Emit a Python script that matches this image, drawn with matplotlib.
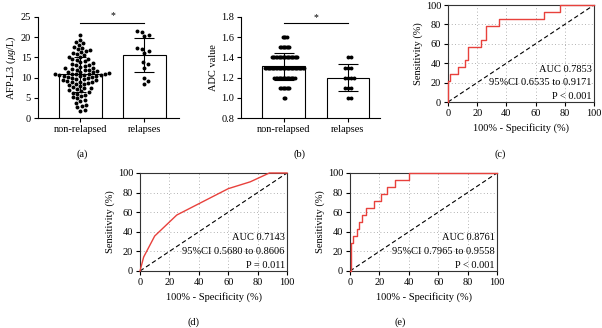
import numpy as np
import matplotlib
matplotlib.use("Agg")
import matplotlib.pyplot as plt

plt.rcParams["font.family"] = ["Liberation Serif", "DejaVu Serif"]
plt.rcParams["mathtext.fontset"] = "custom"
plt.rcParams["mathtext.it"] = "Liberation Serif:italic"
plt.rcParams["mathtext.rm"] = "Liberation Serif"
plt.rcParams["font.size"] = 7.5

# ── data ──────────────────────────────────────────────────────────────────── #
groups = ["non-relapsed", "relapses"]

afp_nonrel = [
    20.6, 19.4, 18.9, 18.5, 18.1, 17.6, 17.4, 17.0, 16.8, 16.6, 16.3, 16.1,
    15.8, 15.5, 15.2, 15.0, 14.7, 14.3, 14.1, 13.8, 13.5, 13.3, 13.1, 12.9,
    12.6, 12.4, 12.3, 12.0, 11.9, 11.7, 11.5, 11.3, 11.1, 11.0, 10.9, 10.9,
    10.8, 10.8, 10.7, 10.7, 10.6, 10.5, 10.4, 10.2, 10.1, 9.9, 9.8, 9.6,
    9.4, 9.3, 9.1, 8.9, 8.7, 8.5, 8.4, 8.1, 7.9, 7.7, 7.4, 7.2, 6.9, 6.7,
    6.5, 6.3, 6.0, 5.8, 5.5, 5.2, 4.9, 4.5, 4.1, 3.6, 3.3, 3.0, 2.6, 2.1, 1.8,
    12.2, 11.4, 10.3, 9.7, 8.8, 11.8, 13.0, 7.5, 14.5, 9.0,
]
afp_rel = [21.5, 21.2, 20.6, 20.2, 17.4, 17.0, 16.5, 16.0, 13.8, 13.4, 12.5, 10.0, 9.2, 8.3]
afp_mean = [10.8, 15.7]
afp_sd = [4.4, 4.2]

adc_levels = [1.0, 1.1, 1.2, 1.3, 1.4, 1.5, 1.6]
adc_nonrel_counts = [2, 8, 16, 30, 20, 8, 4]
adc_rel_counts = [2, 3, 4, 3, 2, 0, 0]
adc_mean = [1.31, 1.20]
adc_sd = [0.13, 0.13]

# ROC curves: 100% - specificity (x) and sensitivity (y), in %
roc_c_x = [0, 0, 1.1, 1.1, 6.6, 6.6, 11.4, 11.4, 14, 14, 22.7, 22.7, 26, 26, 35, 35, 65.7, 65.7, 77, 77, 100]
roc_c_y = [0, 21.4, 21.4, 28.6, 28.6, 35.7, 35.7, 42.9, 42.9, 57.1, 57.1, 64.3, 64.3, 78.6, 78.6, 85.7, 85.7, 92.9, 92.9, 100, 100]
roc_d_x = [0, 2.5, 10, 25, 60, 75, 88, 100]
roc_d_y = [0, 14.3, 35.7, 57.1, 84, 91, 100, 100]
roc_e_x = [0, 0.7, 0.7, 2, 2, 5, 5, 6, 6, 8.4, 8.4, 11, 11, 16.6, 16.6, 21, 21, 25.5, 25.5, 30.7, 30.7, 40, 40, 100]
roc_e_y = [0, 0, 28.6, 28.6, 35.7, 35.7, 42.9, 42.9, 50, 50, 57.1, 57.1, 64.3, 64.3, 71.4, 71.4, 78.6, 78.6, 85.7, 85.7, 92.9, 92.9, 100, 100]

roc_c_text = ["AUC 0.7853", "95%CI 0.6535 to 0.9171", "P < 0.001"]
roc_d_text = ["AUC 0.7143", "95%CI 0.5680 to 0.8606", "P = 0.011"]
roc_e_text = ["AUC 0.8761", "95%CI 0.7965 to 0.9558", "P < 0.001"]

W, H = 602, 328
fig = plt.figure(figsize=(W / 100, H / 100), dpi=100)


def add_ax(left, top, right, bottom):
    return fig.add_axes([left / W, 1 - bottom / H, (right - left) / W, (bottom - top) / H])


def swarm(vals, px_per_unit, diam):
    """Beeswarm offsets (pixels) for values drawn at px_per_unit vertical scale."""
    vals = np.asarray(vals, float)
    order = np.argsort(vals)
    placed = []
    offs = np.zeros(len(vals))
    for i in order:
        y = vals[i] * px_per_unit
        near = [(x, yy) for x, yy in placed if abs(yy - y) < diam]
        cands = [0.0]
        for x, yy in near:
            dx = np.sqrt(diam ** 2 - (yy - y) ** 2)
            cands += [x + dx, x - dx]
        cands.sort(key=abs)
        for c in cands:
            if all((c - x) ** 2 + (y - yy) ** 2 >= diam ** 2 - 1e-6 for x, yy in near):
                offs[i] = c
                break
        placed.append((offs[i], y))
    return offs


def bar_panel(ax, means, sds, pts, px_per_unit, spacing, caps, ylim, yticks, ylabel, sig_y, star_y):
    ax.bar([0, 1], means, width=0.67, color="white", edgecolor="black", linewidth=0.8, zorder=1)
    for k, vals in enumerate(pts):
        off = swarm(vals, px_per_unit, spacing[k]) / 64.0
        ax.scatter(k + off, vals, s=8, color="black", linewidths=0, zorder=3)
        ax.errorbar(k, means[k], yerr=sds[k], fmt="none", ecolor="black",
                    elinewidth=0.8, capsize=caps[k], capthick=0.8, zorder=4)
    ax.set_ylim(*ylim)
    ax.set_yticks(yticks)
    ax.set_xticks([0, 1])
    ax.set_xticklabels(groups)
    ax.set_ylabel(ylabel, labelpad=2)
    for s in ["top", "right"]:
        ax.spines[s].set_visible(False)
    for s in ["left", "bottom"]:
        ax.spines[s].set_linewidth(0.8)
    ax.tick_params(direction="out", length=3, width=0.8, pad=2)
    ax.plot([0, 1], [sig_y, sig_y], color="black", lw=0.8, clip_on=False)
    ax.text(0.5, star_y, "*", ha="center", va="center", fontsize=7, clip_on=False)


# ── (a) AFP-L3 ─────────────────────────────────────────────────────────────── #
ax = add_ax(38, 17, 179, 118)
bar_panel(ax, afp_mean, afp_sd, [afp_nonrel, afp_rel], 101 / 25, [4.4, 5.0], [4.5, 7.5],
          (0, 25), [0, 5, 10, 15, 20, 25], r"AFP-L3 ($\mu g$/L)", 23.6, 25.4)
ax.set_xlim(-0.664, 1.54)

# ── (b) ADC ────────────────────────────────────────────────────────────────── #
adc_nonrel = np.repeat(adc_levels, adc_nonrel_counts)
adc_rel = np.repeat(adc_levels, adc_rel_counts)
ax = add_ax(241, 17, 380, 118)
bar_panel(ax, adc_mean, adc_sd, [adc_nonrel, adc_rel], 101 / 1.0, [1.35, 3.0], [7.5, 7.5],
          (0.8, 1.8), [0.8, 1.0, 1.2, 1.4, 1.6, 1.8], "ADC value", 1.74, 1.79)
ax.set_xlim(-0.67, 1.5)
ax.set_yticklabels(["0.8", "1.0", "1.2", "1.4", "1.6", "1.8"])


# ── ROC panels ─────────────────────────────────────────────────────────────── #
def roc_panel(ax, xs, ys, lines):
    ax.plot([0, 100], [0, 100], color="black", lw=0.8, ls=(0, (4, 2.5)), zorder=2)
    ax.plot(xs, ys, color="#e8413c", lw=1.0, zorder=3, clip_on=False)
    ax.set_xlim(0, 100)
    ax.set_ylim(0, 100)
    ax.set_xticks(range(0, 101, 20))
    ax.set_yticks(range(0, 101, 20))
    for g in [20, 40, 60, 80]:
        ax.axvline(g, color="#999999", lw=0.6, ls=(0, (1, 3)), zorder=0)
        ax.axhline(g, color="#999999", lw=0.6, ls=(0, (1, 3)), zorder=0)
    for s in ax.spines.values():
        s.set_linewidth(0.8)
        s.set_color("#333333")
    ax.tick_params(direction="out", length=3, width=0.8, pad=2)
    ax.set_xlabel("100% - Specificity (%)", labelpad=4)
    ax.set_ylabel("Sensitivity (%)", labelpad=2)
    for txt, yv in zip(lines, [34, 20, 6]):
        ax.text(98.5, yv, txt, ha="right", va="center", fontsize=7.5)


roc_panel(add_ax(448, 5, 594, 102), roc_c_x, roc_c_y, roc_c_text)
roc_panel(add_ax(140, 173, 287, 271), roc_d_x, roc_d_y, roc_d_text)
roc_panel(add_ax(350, 173, 497, 271), roc_e_x, roc_e_y, roc_e_text)

# ── panel captions ─────────────────────────────────────────────────────────── #
for lab, x, y in [("(a)", 82, 154), ("(b)", 300, 154), ("(c)", 500, 154),
                  ("(d)", 193, 322), ("(e)", 400, 322)]:
    fig.text(x / W, 1 - y / H, lab, ha="center", va="center", fontsize=7.5)

fig.savefig("out.png", dpi=100)
